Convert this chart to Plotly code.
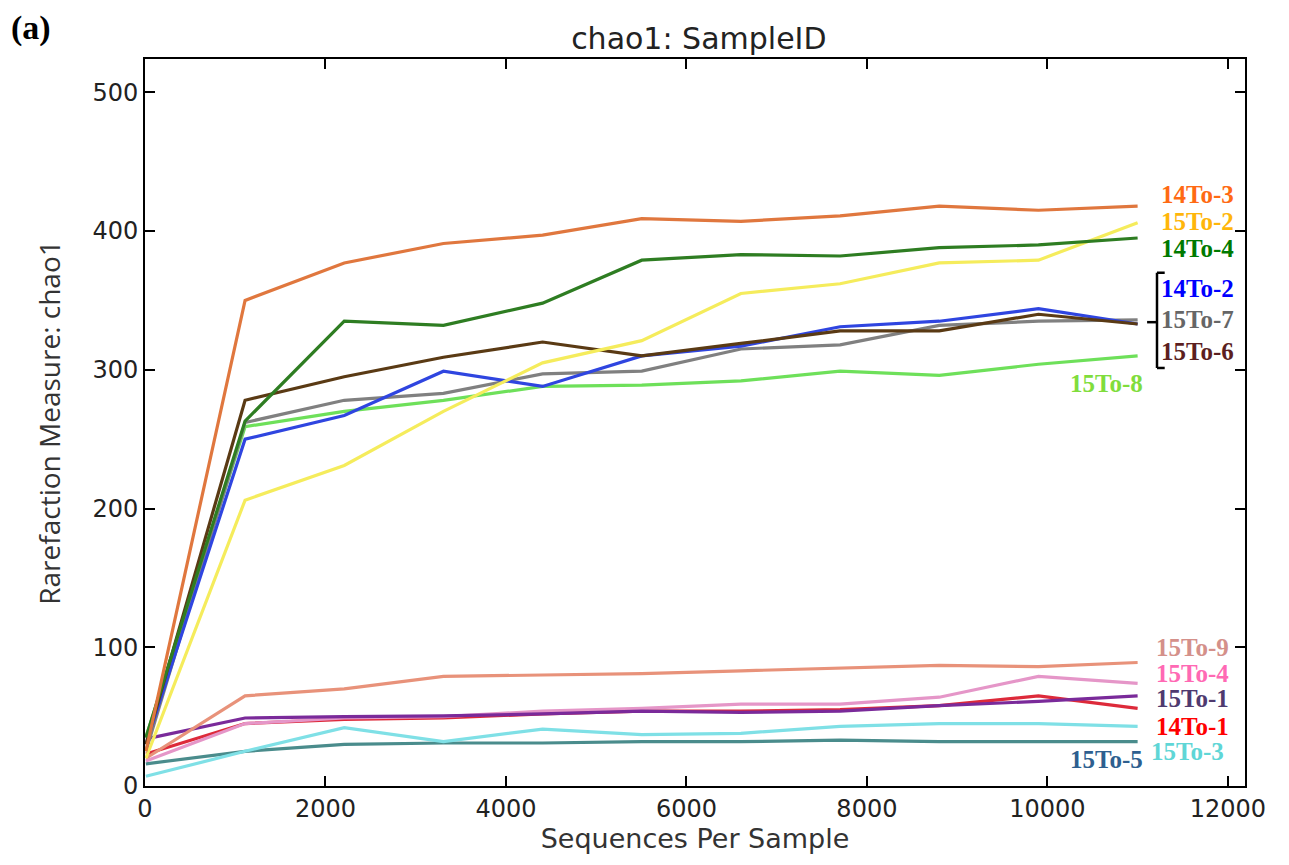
import plotly.graph_objects as go

seqs = [10, 1109, 2208, 3307, 4406, 5505, 6604, 7703, 8802, 9901, 11000]

samples = ["14To-3", "15To-2", "14To-4", "14To-2", "15To-7", "15To-6", "15To-8",
           "15To-9", "15To-4", "15To-1", "14To-1", "15To-3", "15To-5"]

chao1 = {
    "14To-3": [25, 350, 377, 391, 397, 409, 407, 411, 418, 415, 418],
    "15To-2": [20, 206, 231, 270, 305, 321, 355, 362, 377, 379, 406],
    "14To-4": [35, 263, 335, 332, 348, 379, 383, 382, 388, 390, 395],
    "14To-2": [30, 250, 267, 299, 288, 310, 317, 331, 335, 344, 333],
    "15To-7": [25, 262, 278, 283, 297, 299, 315, 318, 332, 335, 336],
    "15To-6": [30, 278, 295, 309, 320, 310, 319, 328, 328, 340, 333],
    "15To-8": [35, 259, 270, 278, 288, 289, 292, 299, 296, 304, 310],
    "15To-9": [20, 65, 70, 79, 80, 81, 83, 85, 87, 86, 89],
    "15To-4": [18, 45, 49, 50, 54, 56, 59, 59, 64, 79, 74],
    "15To-1": [34, 49, 50, 50.5, 52, 54, 53, 54, 58, 61, 65],
    "14To-1": [23, 45, 48, 49, 52, 54, 54, 55, 58, 65, 56],
    "15To-3": [7, 25, 42, 32, 41, 37, 38, 43, 45, 45, 43],
    "15To-5": [16, 25, 30, 31, 31, 32, 32, 33, 32, 32, 32],
}

x_ticks = [0, 2000, 4000, 6000, 8000, 10000, 12000]
x_tick_text = ["0", "2000", "4000", "6000", "8000", "10000", "12000"]
y_ticks = [0, 100, 200, 300, 400, 500]

line_colors = {
    "14To-3": "#e0773e", "15To-2": "#f5ec5c", "14To-4": "#2e7d22",
    "14To-2": "#2f45e0", "15To-7": "#808080", "15To-6": "#5a3a14",
    "15To-8": "#6ee05a", "15To-9": "#e8927a", "15To-4": "#e596c8",
    "15To-1": "#7a2a9a", "14To-1": "#dd2a3a", "15To-3": "#7fe0e6",
    "15To-5": "#4a8c8c",
}

label_colors = {
    "14To-3": "#ff6a13", "15To-2": "#ffb60a", "14To-4": "#007a00",
    "14To-2": "#0000ff", "15To-7": "#666666", "15To-6": "#5c1f1f",
    "15To-8": "#80dd3c", "15To-9": "#d4908a", "15To-4": "#ff69b4",
    "15To-1": "#4f3a6f", "14To-1": "#ff0000", "15To-3": "#5fd6d6",
    "15To-5": "#2e5f8f",
}

# label placement (paper coords): x, y, anchor
label_pos = {
    "14To-3": (0.922, 0.813, "left"), "15To-2": (0.922, 0.776, "left"),
    "14To-4": (0.922, 0.739, "left"), "14To-2": (0.922, 0.685, "left"),
    "15To-7": (0.922, 0.641, "left"), "15To-6": (0.922, 0.597, "left"),
    "15To-8": (0.909, 0.554, "right"), "15To-9": (0.917, 0.190, "left"),
    "15To-4": (0.917, 0.155, "left"), "15To-1": (0.917, 0.120, "left"),
    "14To-1": (0.917, 0.082, "left"), "15To-3": (0.913, 0.047, "left"),
    "15To-5": (0.909, 0.037, "right"),
}

draw_order = ["15To-5", "15To-3", "14To-1", "15To-4", "15To-1", "15To-9",
              "15To-8", "15To-7", "14To-2", "15To-6", "15To-2", "14To-4", "14To-3"]

fig = go.Figure()
for s in draw_order:
    fig.add_trace(go.Scatter(x=seqs, y=chao1[s], mode="lines", name=s,
                             line=dict(color=line_colors[s], width=3.2)))

annotations = []
for s in samples:
    x, y, anc = label_pos[s]
    annotations.append(dict(
        x=x, y=y, xref="paper", yref="paper", xanchor=anc, yanchor="middle",
        text="<b>%s</b>" % s, showarrow=False,
        font=dict(family="Liberation Serif", size=25, color=label_colors[s])))
annotations.append(dict(x=-0.124, y=1.043, xref="paper", yref="paper",
                        xanchor="left", yanchor="middle", text="<b>(a)</b>",
                        showarrow=False,
                        font=dict(family="Liberation Serif", size=34, color="black")))

shapes = [
    dict(type="line", xref="paper", yref="paper", x0=0.920, x1=0.920, y0=0.575, y1=0.706,
         line=dict(color="black", width=2.5)),
    dict(type="line", xref="paper", yref="paper", x0=0.920, x1=0.927, y0=0.706, y1=0.706,
         line=dict(color="black", width=2.5)),
    dict(type="line", xref="paper", yref="paper", x0=0.920, x1=0.927, y0=0.575, y1=0.575,
         line=dict(color="black", width=2.5)),
    dict(type="line", xref="paper", yref="paper", x0=0.911, x1=0.920, y0=0.638, y1=0.638,
         line=dict(color="black", width=2.5)),
]

fig.update_layout(
    width=1281, height=857,
    margin=dict(l=137, r=44, t=51, b=79),
    paper_bgcolor="white", plot_bgcolor="white",
    showlegend=False,
    title=dict(text="chao1: SampleID", x=0.5393, xanchor="center", y=0.964, yanchor="middle",
               font=dict(family="DejaVu Sans", size=30, color="#222222")),
    annotations=annotations, shapes=shapes,
    xaxis=dict(range=[0, 12190], tickvals=x_ticks, ticktext=x_tick_text,
               ticks="inside", ticklen=10, tickwidth=2, tickcolor="black",
               showline=True, linecolor="black", linewidth=2, mirror="ticks",
               showgrid=False, zeroline=False,
               tickfont=dict(family="DejaVu Sans", size=24, color="#222222"),
               title=dict(text="Sequences Per Sample", standoff=7,
                          font=dict(family="DejaVu Sans", size=27, color="#333333"))),
    yaxis=dict(range=[0, 524], tickvals=y_ticks,
               ticks="inside", ticklen=10, tickwidth=2, tickcolor="black",
               showline=True, linecolor="black", linewidth=2, mirror="ticks",
               showgrid=False, zeroline=False,
               tickfont=dict(family="DejaVu Sans", size=24, color="#222222"),
               title=dict(text="Rarefaction Measure: chao1", standoff=24,
                          font=dict(family="Open Sans", size=28, color="#333333"))),
)

fig.write_html("out.html")
